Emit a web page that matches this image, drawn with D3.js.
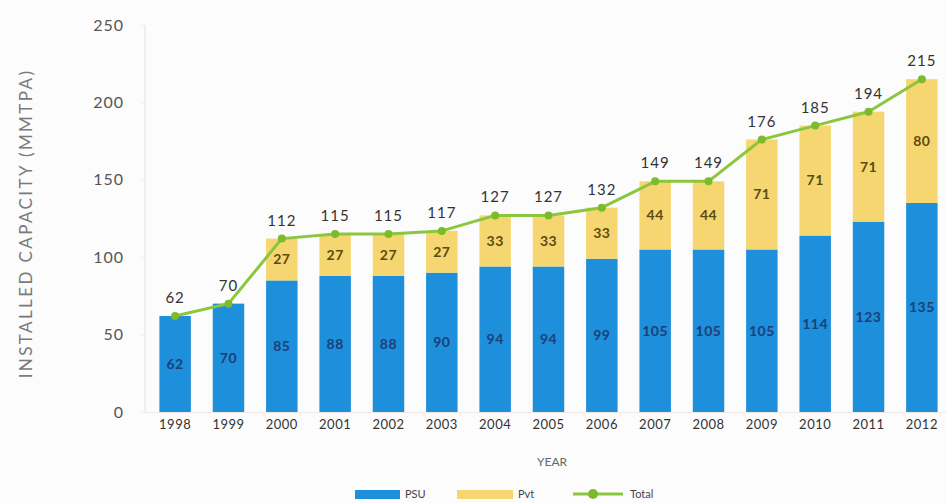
<!DOCTYPE html>
<html>
<head>
<meta charset="utf-8">
<script src="https://cdn.jsdelivr.net/npm/d3@7"></script>
<style>
  html, body { margin: 0; padding: 0; background: #fcfcfc; }
  svg { display: block; }
  text { font-family: Lato, "Open Sans", sans-serif; }
</style>
</head>
<body>
<svg id="chart" width="946" height="503"></svg>
<script>
// Installed capacity by year, split into public-sector (PSU) and private (Pvt)
const years = ["1998","1999","2000","2001","2002","2003","2004","2005","2006","2007","2008","2009","2010","2011","2012"];
const psu   = [62, 70, 85, 88, 88, 90, 94, 94, 99, 105, 105, 105, 114, 123, 135];
const pvt   = [0, 0, 27, 27, 27, 27, 33, 33, 33, 44, 44, 71, 71, 71, 80];
const total = [62, 70, 112, 115, 115, 117, 127, 127, 132, 149, 149, 176, 185, 194, 215];
const yTicks = [0, 50, 100, 150, 200, 250];
const seriesNames = ["PSU", "Pvt", "Total"];

const colors = { PSU: "#1e8fda", Pvt: "#f5d670", Total: "#8cc63f" };

const svg = d3.select("#chart");

const x = d3.scaleBand()
  .domain(years)
  .range([145, 952])
  .paddingInner(0.41)
  .paddingOuter(0.27);

const y = d3.scaleLinear()
  .domain([0, 250])
  .range([412, 25]);

const rows = years.map((yr, i) => ({ year: yr, PSU: psu[i], Pvt: pvt[i], Total: total[i] }));
const stacked = d3.stack().keys(["PSU", "Pvt"])(rows);

// y axis: thin grey rule with tick labels
const yAxis = d3.axisLeft(y).tickValues(yTicks).tickSize(4).tickPadding(17);
const gy = svg.append("g").attr("transform", "translate(145,0)").call(yAxis);
gy.select(".domain").attr("stroke", "#e2e2e2").attr("d", `M0,${y(250)}V${y(0)}`);
gy.selectAll(".tick line").attr("stroke", "#ececec");
gy.selectAll(".tick text")
  .attr("fill", "#555")
  .style("font-size", "16px")
  .style("letter-spacing", "1px");

// baseline
svg.append("line")
  .attr("x1", 145).attr("x2", 946)
  .attr("y1", y(0) + 0.5).attr("y2", y(0) + 0.5)
  .attr("stroke", "#f0e6e6");

// x axis labels
const xAxis = d3.axisBottom(x).tickSize(0).tickPadding(8);
const gx = svg.append("g").attr("transform", `translate(0,${y(0)})`).call(xAxis);
gx.select(".domain").remove();
gx.selectAll(".tick text")
  .attr("fill", "#333")
  .style("font-size", "13px")
  .style("letter-spacing", "0.5px");

// stacked bars
svg.append("g").selectAll("g")
  .data(stacked)
  .join("g")
  .attr("fill", d => colors[d.key])
  .selectAll("rect")
  .data(d => d)
  .join("rect")
  .attr("x", d => x(d.data.year))
  .attr("width", x.bandwidth())
  .attr("y", d => y(d[1]))
  .attr("height", d => y(d[0]) - y(d[1]));

// segment value labels
const segLabels = svg.append("g")
  .attr("text-anchor", "middle")
  .style("font-size", "14px")
  .style("font-weight", "700")
  .style("letter-spacing", "0.5px");

stacked.forEach(layer => {
  segLabels.selectAll(null)
    .data(layer.filter(d => d[1] - d[0] > 0))
    .join("text")
    .attr("x", d => x(d.data.year) + x.bandwidth() / 2)
    .attr("y", d => (y(d[0]) + y(d[1])) / 2)
    .attr("dy", "0.35em")
    .attr("fill", layer.key === "PSU" ? "#1b3f78" : "#5c4b12")
    .text(d => d[1] - d[0]);
});

// total line with markers
const cx = d => x(d.year) + x.bandwidth() / 2;
svg.append("path")
  .datum(rows)
  .attr("fill", "none")
  .attr("stroke", colors.Total)
  .attr("stroke-width", 3)
  .attr("stroke-linejoin", "round")
  .attr("d", d3.line().x(cx).y(d => y(d.Total)));

svg.append("g").selectAll("circle")
  .data(rows)
  .join("circle")
  .attr("cx", cx)
  .attr("cy", d => y(d.Total))
  .attr("r", 4)
  .attr("fill", "#7cbb2c");

svg.append("g")
  .attr("text-anchor", "middle")
  .style("font-size", "15px")
  .style("letter-spacing", "1px")
  .selectAll("text")
  .data(rows)
  .join("text")
  .attr("x", cx)
  .attr("y", d => y(d.Total) - 13)
  .attr("fill", "#333")
  .text(d => d.Total);

// axis titles
svg.append("text")
  .attr("transform", `translate(32,${(y(0) + y(250)) / 2 + 5}) rotate(-90)`)
  .attr("text-anchor", "middle")
  .attr("fill", "#7a7a7a")
  .style("font-size", "17px")
  .style("letter-spacing", "2.4px")
  .text("INSTALLED CAPACITY (MMTPA)");

svg.append("text")
  .attr("x", 552)
  .attr("y", 466)
  .attr("text-anchor", "middle")
  .attr("fill", "#666")
  .style("font-size", "12px")
  .text("YEAR");

// legend
const legend = svg.append("g").attr("transform", "translate(355,494)");
const legendItems = [
  { name: seriesNames[0], x: 0 },
  { name: seriesNames[1], x: 102 },
  { name: seriesNames[2], x: 218 }
];
legendItems.forEach(item => {
  const g = legend.append("g").attr("transform", `translate(${item.x},0)`);
  if (item.name === "Total") {
    g.append("line").attr("x1", 0).attr("x2", 50).attr("y1", 0).attr("y2", 0)
      .attr("stroke", colors.Total).attr("stroke-width", 3);
    g.append("circle").attr("cx", 20).attr("cy", 0).attr("r", 5).attr("fill", "#7cbb2c");
    g.append("text").attr("x", 57).attr("y", 0).attr("dy", "0.35em")
      .attr("fill", "#444").style("font-size", "11px").text(item.name);
  } else {
    g.append("rect").attr("x", 0).attr("y", -4).attr("width", item.name === "PSU" ? 45 : 56).attr("height", 9)
      .attr("fill", colors[item.name]);
    g.append("text").attr("x", item.name === "PSU" ? 50 : 61).attr("y", 0).attr("dy", "0.35em")
      .attr("fill", "#444").style("font-size", "11px").text(item.name);
  }
});
</script>
</body>
</html>
